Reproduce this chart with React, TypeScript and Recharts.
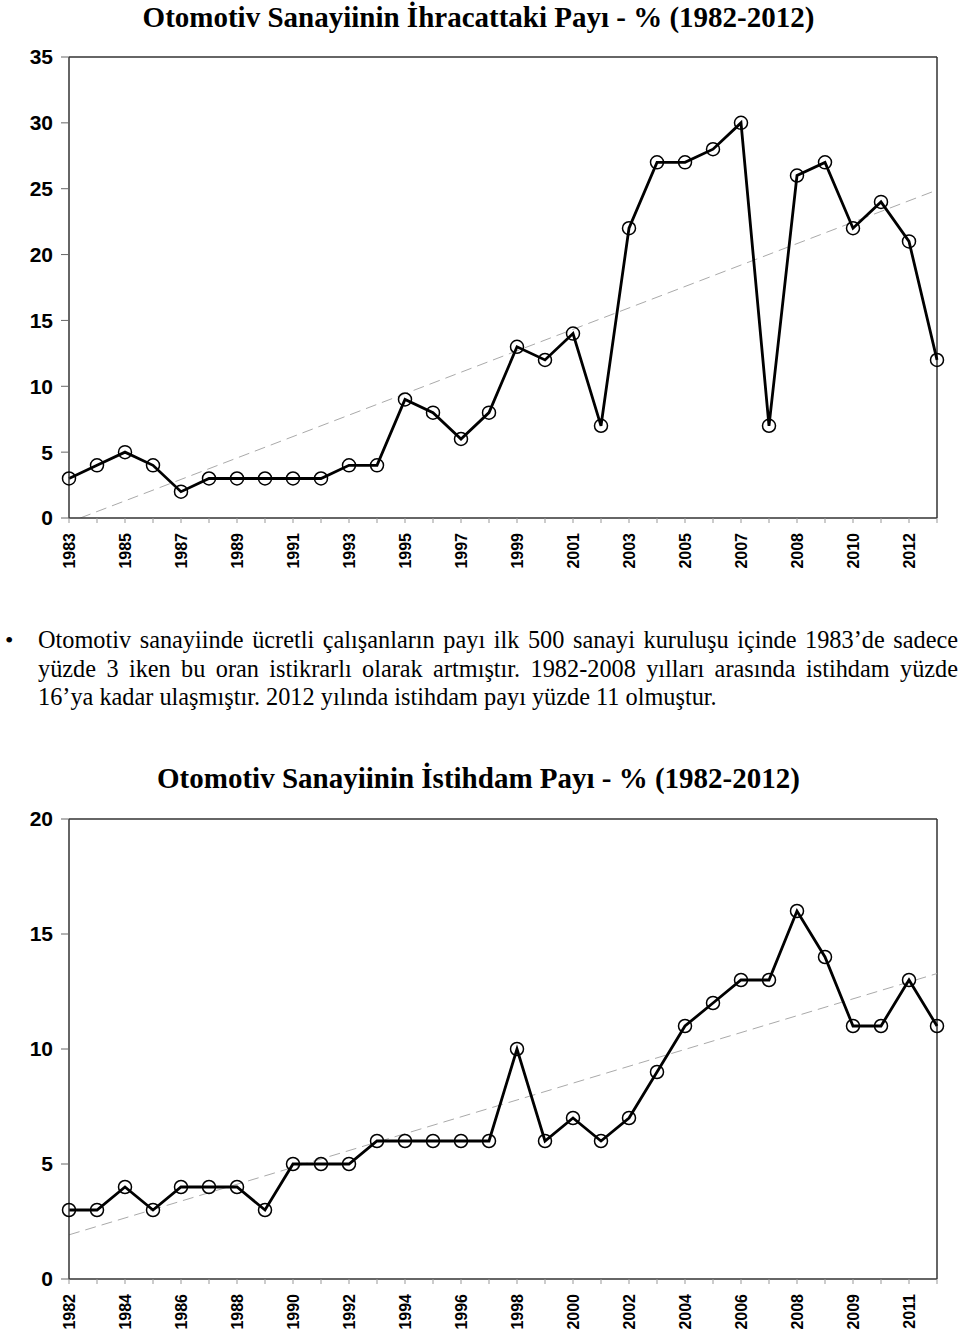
import React from 'react';
import { LineChart, Line, XAxis, YAxis, ReferenceLine } from 'recharts';

// Export share chart (top)
const exportYearLabels = ['1983', '1985', '1987', '1989', '1991', '1993', '1995', '1997', '1999', '2001', '2003', '2005', '2007', '2008', '2010', '2012'];
const exportShare = [3, 4, 5, 4, 2, 3, 3, 3, 3, 3, 4, 4, 9, 8, 6, 8, 13, 12, 14, 7, 22, 27, 27, 28, 30, 7, 26, 27, 22, 24, 21, 12];
const exportTicks = [0, 5, 10, 15, 20, 25, 30, 35];
const exportTrend = [{ x: 0.4, y: 0 }, { x: 31, y: 24.9 }];

// Employment share chart (bottom)
const employYearLabels = ['1982', '1984', '1986', '1988', '1990', '1992', '1994', '1996', '1998', '2000', '2002', '2004', '2006', '2008', '2009', '2011'];
const employShare = [3, 3, 4, 3, 4, 4, 4, 3, 5, 5, 5, 6, 6, 6, 6, 6, 10, 6, 7, 6, 7, 9, 11, 12, 13, 13, 16, 14, 11, 11, 13, 11];
const employTicks = [0, 5, 10, 15, 20];
const employTrend = [{ x: 0, y: 1.92 }, { x: 31, y: 13.28 }];

const paragraphLines = [
  'Otomotiv sanayiinde ücretli çalışanların payı ilk 500 sanayi kuruluşu içinde 1983’de sadece',
  'yüzde 3 iken bu oran istikrarlı olarak artmıştır. 1982-2008 yılları arasında istihdam yüzde',
  '16’ya kadar ulaşmıştır. 2012 yılında istihdam payı yüzde 11 olmuştur.',
];

const sansBold = { fontFamily: '"Liberation Sans", Arial, sans-serif', fontWeight: 700 };
const serif = '"Liberation Serif", "Times New Roman", serif';

function YearTick(props: any) {
  const { x, y, payload, labels } = props;
  const idx = payload.value;
  if (idx % 2 !== 0) return null;
  return (
    <text
      transform={`translate(${x},${y}) rotate(-90)`}
      textAnchor="end"
      dy="0.36em"
      fontSize={16}
      fill="#000"
      style={sansBold}
    >
      {labels[idx / 2]}
    </text>
  );
}

interface ShareChartProps {
  values: number[];
  labels: string[];
  yTicks: number[];
  trend: { x: number; y: number }[];
  height: number;
  top: number;
  xAxisHeight: number;
}

function ShareChart({ values, labels, yTicks, trend, height, top, xAxisHeight }: ShareChartProps) {
  const data = values.map((v, i) => ({ i, v }));
  const xTicks = values.map((_, i) => i);
  const yMax = yTicks[yTicks.length - 1];
  const last = values.length - 1;

  return (
    <LineChart width={960} height={height} data={data} margin={{ top, right: 23, bottom: 0, left: 0 }}>
      <XAxis
        type="number"
        dataKey="i"
        domain={[0, last]}
        ticks={xTicks}
        interval={0}
        height={xAxisHeight}
        tickSize={5}
        tickMargin={10}
        axisLine={{ stroke: '#333', strokeWidth: 1.5 }}
        tickLine={{ stroke: '#999' }}
        tick={<YearTick labels={labels} />}
      />
      <YAxis
        type="number"
        domain={[0, yMax]}
        ticks={yTicks}
        width={69}
        tickSize={8}
        tickMargin={8}
        axisLine={{ stroke: '#333', strokeWidth: 1.5 }}
        tickLine={{ stroke: '#666' }}
        tick={{ fontSize: 21, fill: '#000', ...sansBold }}
      />
      <ReferenceLine y={yMax} stroke="#333" strokeWidth={1.5} />
      <ReferenceLine x={last} stroke="#333" strokeWidth={1.5} />
      <ReferenceLine
        segment={trend}
        stroke="#aaa"
        strokeWidth={1}
        strokeDasharray="11 6"
        ifOverflow="hidden"
      />
      <Line
        type="linear"
        dataKey="v"
        stroke="#000"
        strokeWidth={2.8}
        dot={{ r: 6.5, stroke: '#000', strokeWidth: 1.5, fill: 'none' }}
        activeDot={false}
        isAnimationActive={false}
      />
    </LineChart>
  );
}

const titleStyle: React.CSSProperties = {
  position: 'absolute',
  left: 0,
  width: 957,
  textAlign: 'center',
  fontFamily: serif,
  fontWeight: 700,
  fontSize: 29,
  lineHeight: '32px',
  color: '#000',
  whiteSpace: 'nowrap',
};

export default function App() {
  return (
    <div style={{ position: 'absolute', left: 0, top: 0, width: 960, height: 1330, background: '#fff', overflow: 'hidden' }}>
      <div style={{ ...titleStyle, top: 1 }}>Otomotiv Sanayiinin İhracattaki Payı - % (1982-2012)</div>
      <div style={{ position: 'absolute', left: 0, top: 0 }}>
        <ShareChart
          values={exportShare}
          labels={exportYearLabels}
          yTicks={exportTicks}
          trend={exportTrend}
          height={580}
          top={57}
          xAxisHeight={62}
        />
      </div>

      <div style={{ position: 'absolute', left: 5, top: 626, fontFamily: serif, fontSize: 24, lineHeight: '28.5px' }}>•</div>
      <div
        style={{
          position: 'absolute',
          left: 38,
          top: 626,
          width: 920,
          fontFamily: serif,
          fontSize: 24.3,
          lineHeight: '28.5px',
          color: '#000',
          whiteSpace: 'nowrap',
        }}
      >
        {paragraphLines.map((line, i) => (
          <div
            key={i}
            style={{
              textAlign: 'justify',
              textAlignLast: i < paragraphLines.length - 1 ? 'justify' : 'left',
              whiteSpace: 'normal',
            }}
          >
            {line}
          </div>
        ))}
      </div>

      <div style={{ ...titleStyle, top: 762 }}>Otomotiv Sanayiinin İstihdam Payı - % (1982-2012)</div>
      <div style={{ position: 'absolute', left: 0, top: 740 }}>
        <ShareChart
          values={employShare}
          labels={employYearLabels}
          yTicks={employTicks}
          trend={employTrend}
          height={590}
          top={79}
          xAxisHeight={51}
        />
      </div>
    </div>
  );
}
